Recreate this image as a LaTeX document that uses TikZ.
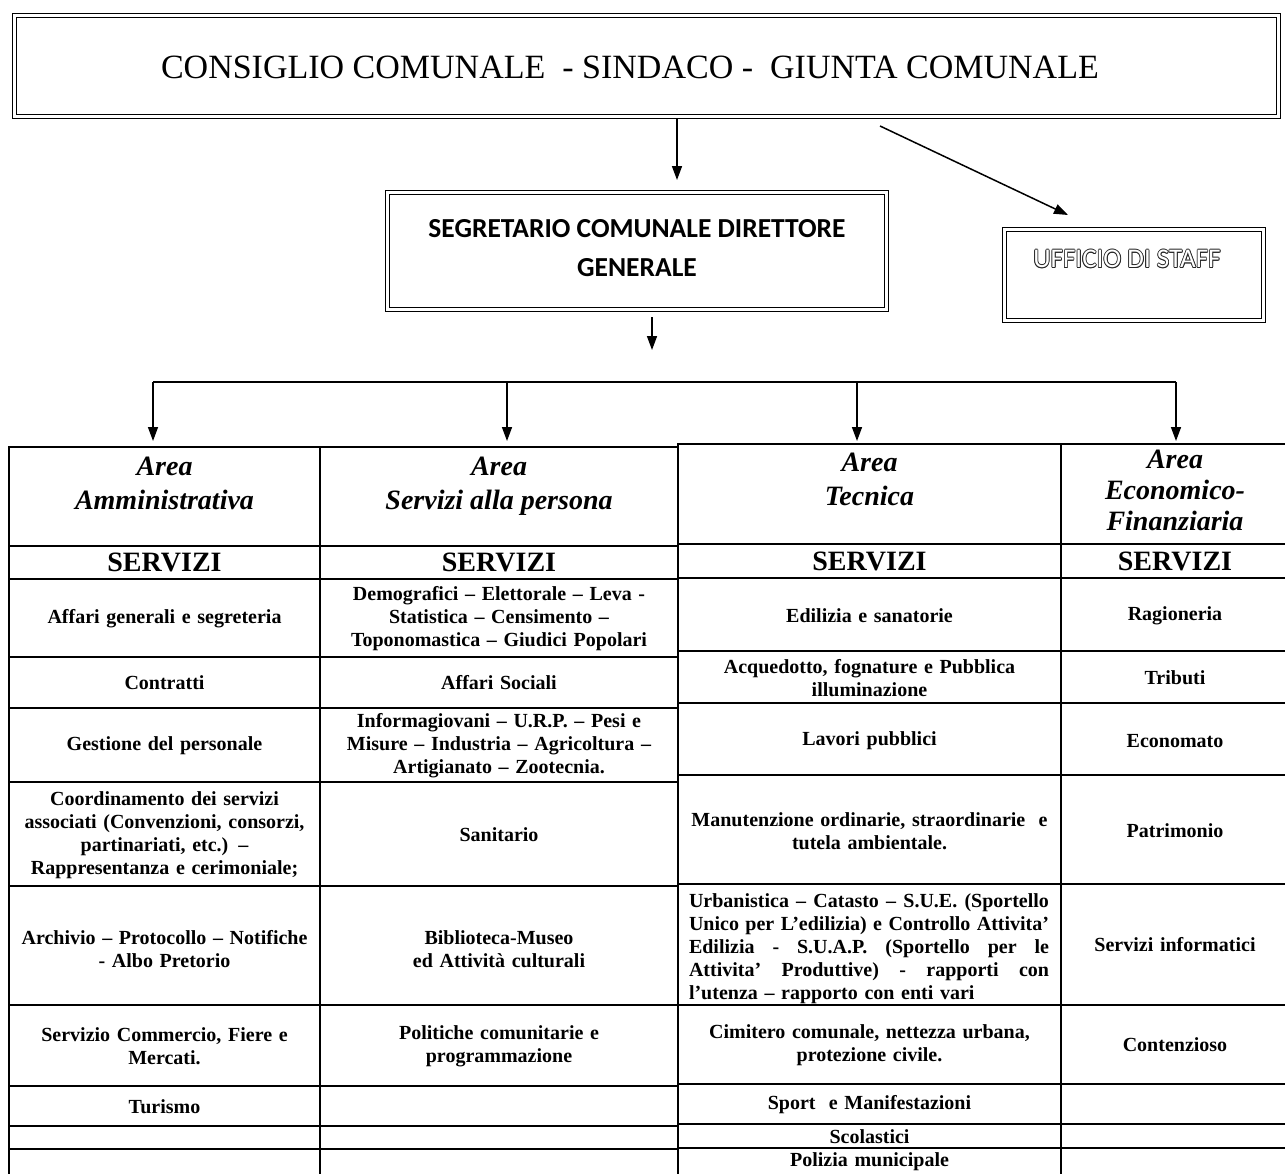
\documentclass[tikz,border=0pt]{standalone}
\usepackage{fontspec}
\setmainfont{Liberation Serif}
\newfontfamily\calib{Carlito}
\usetikzlibrary{arrows.meta}
\newcommand\fBody{\bfseries\fontsize{20}{23}\selectfont}
\newcommand\fServ{\bfseries\fontsize{28}{32}\selectfont}
\newcommand\fTitle{\fontsize{34}{40}\selectfont}
\newcommand\fSeg{\calib\bfseries\fontsize{27.5}{39}\selectfont}
\newcommand\fStaff{\calib\fontsize{27}{30}\selectfont}
\newcommand\outl[1]{{%
  \setbox0=\hbox{\color{black!85}#1}%
  \setbox2=\hbox{\color{white}#1}%
  \rlap{\kern0.8pt\copy0}\rlap{\kern-0.8pt\copy0}%
  \rlap{\raise0.8pt\copy0}\rlap{\lower0.8pt\copy0}%
  \rlap{\kern0.6pt\raise0.6pt\copy0}\rlap{\kern-0.6pt\raise0.6pt\copy0}%
  \rlap{\kern0.6pt\lower0.6pt\copy0}\rlap{\kern-0.6pt\lower0.6pt\copy0}%
  \box2}}
\newcommand\jline[1]{\noindent\hbox to 360pt{\spaceskip=5pt plus 30pt minus 1pt\relax #1}}
\begin{document}
\begin{tikzpicture}[x=1pt,y=-1pt,
  arr/.style={line width=1.5pt,-{Triangle[width=10pt,length=14pt]}},
  gridline/.style={line width=1.5pt},
  dbox/.style={draw,double,double distance=3pt,line width=1pt,inner sep=0pt},
  cell/.style={font=\fBody,align=center,inner sep=0pt,text width=#1},
  hcell/.style={font=\bfseries\itshape\fontsize{28}{#1}\selectfont,align=center,inner sep=0pt,anchor=north},
  scell/.style={font=\fServ,inner sep=0pt}]
\useasboundingbox[fill=white] (0,0) rectangle (1285,1173);

% boxes
\node[dbox,minimum width=1264pt,minimum height=101pt] (top) at (646.5,66) {};
\node[font=\fTitle,inner sep=0pt] (toptxt) at (630,67) {CONSIGLIO COMUNALE \ - SINDACO - \ GIUNTA COMUNALE};
\node[dbox,minimum width=499pt,minimum height=117pt] (seg) at (637,251) {};
\node[font=\fSeg,align=center,inner sep=0pt,anchor=north] (segtxt) at (637,219) {SEGRETARIO COMUNALE DIRETTORE\\GENERALE};
\node[dbox,minimum width=259pt,minimum height=91pt] (staff) at (1134,275) {};
\node[font=\fStaff,inner sep=0pt] (stafftxt) at (1127,259) {\outl{UFFICIO DI STAFF}};

% connectors
\coordinate (a1s) at (677,119);
\coordinate (a1e) at (677,180);
\draw[arr] (a1s) -- (a1e);
\coordinate (a2s) at (880,126);
\coordinate (a2e) at (1068,215);
\draw[arr] (a2s) -- (a2e);
\coordinate (a3s) at (652,317);
\coordinate (a3e) at (652,350);
\draw[arr] (a3s) -- (a3e);
\coordinate (bl) at (153,382);
\coordinate (br) at (1176,382);
\coordinate (b1) at (153,441);
\coordinate (b2) at (507,441);
\coordinate (b3) at (857,441);
\coordinate (b4) at (1176,441);
\draw[line width=1.5pt] (b1 |- bl) -- (br);
\draw[arr] (bl) -- (b1);
\draw[arr] (b2 |- bl) -- (b2);
\draw[arr] (b3 |- bl) -- (b3);
\draw[arr] (br) -- (b4);

% table lines
\foreach \y in {447,546,579,657,708,782,886,1005,1086,1126,1149}
  \draw[gridline] (9,\y) -- (678,\y);
\foreach \y in {444,544,578,651,703,775,884,1005,1084,1124,1148}
  \draw[gridline] (678,\y) -- (1295,\y);
\draw[gridline] (9,446) -- (9,1180);
\draw[gridline] (320,446) -- (320,1180);
\draw[gridline] (678,443) -- (678,1180);
\draw[gridline] (1061,443) -- (1061,1180);

% headers
\node[hcell=34] (h1) at (164.5,457) {Area\\Amministrativa};
\node[hcell=34] (h2) at (499,457) {Area\\Servizi alla persona};
\node[hcell=34] (h3) at (869.5,453) {Area\\Tecnica};
\node[hcell=31] (h4) at (1175,450) {Area\\Economico-\\Finanziaria};
\node[scell] (s1) at (164.5,562.5) {SERVIZI};
\node[scell] (s2) at (499,562.5) {SERVIZI};
\node[scell] (s3) at (869.5,561) {SERVIZI};
\node[scell] (s4) at (1175,561) {SERVIZI};

% column 1
\node[cell=300pt] (c11) at (164.5,619) {Affari generali e segreteria};
\node[cell=300pt] (c12) at (164.5,683) {Contratti};
\node[cell=300pt] (c13) at (164.5,746) {Gestione del personale};
\node[cell=300pt] (c14) at (164.5,835) {Coordinamento dei servizi\\associati (Convenzioni, consorzi,\\partinariati, etc.) –\\Rappresentanza e cerimoniale;};
\node[cell=300pt] (c15) at (164.5,949) {Archivio – Protocollo – Notifiche\\- Albo Pretorio};
\node[cell=300pt] (c16) at (164.5,1046) {Servizio Commercio, Fiere e\\Mercati.};
\node[cell=300pt] (c17) at (164.5,1107) {Turismo};

% column 2
\node[cell=345pt] (c21) at (499,619) {Demografici – Elettorale – Leva -\\Statistica – Censimento –\\Toponomastica – Giudici Popolari};
\node[cell=345pt] (c22) at (499,683) {Affari Sociali};
\node[cell=345pt] (c23) at (499,746) {Informagiovani – U.R.P. – Pesi e\\Misure – Industria – Agricoltura –\\Artigianato – Zootecnia.};
\node[cell=345pt] (c24) at (499,835) {Sanitario};
\node[cell=345pt] (c25) at (499,949) {Biblioteca-Museo\\ed Attività culturali};
\node[cell=345pt] (c26) at (499,1046) {Politiche comunitarie e\\programmazione};

% column 3
\node[cell=370pt] (c31) at (869.5,616) {Edilizia e sanatorie};
\node[cell=370pt] (c32) at (869.5,678) {Acquedotto, fognature e Pubblica\\illuminazione};
\node[cell=370pt] (c33) at (869.5,741) {Lavori pubblici};
\node[cell=370pt] (c34) at (869.5,831) {Manutenzione ordinarie, straordinarie \ e\\tutela ambientale.};
\node[font=\fBody,align=left,inner sep=0pt,text width=360pt] (c35) at (869,949) {%
\jline{Urbanistica – Catasto – S.U.E. (Sportello}\\
\jline{Unico per L’edilizia) e Controllo Attivita’}\\
\jline{Edilizia - S.U.A.P. (Sportello per le}\\
\jline{Attivita’ Produttive) - rapporti con}\\
l’utenza – rapporto con enti vari};
\node[cell=370pt] (c36) at (869.5,1045) {Cimitero comunale, nettezza urbana,\\protezione civile.};
\node[cell=370pt] (c37) at (869.5,1105) {Sport \ e Manifestazioni};
\node[cell=370pt] (c38) at (869.5,1137) {Scolastici};
\node[cell=370pt] (c39) at (869.5,1162) {Polizia municipale};

% column 4
\node[cell=215pt] (c41) at (1175,616) {Ragioneria};
\node[cell=215pt] (c42) at (1175,678) {Tributi};
\node[cell=215pt] (c43) at (1175,741) {Economato};
\node[cell=215pt] (c44) at (1175,831) {Patrimonio};
\node[cell=215pt] (c45) at (1175,945) {Servizi informatici};
\node[cell=215pt] (c46) at (1175,1045) {Contenzioso};
\end{tikzpicture}
\end{document}
